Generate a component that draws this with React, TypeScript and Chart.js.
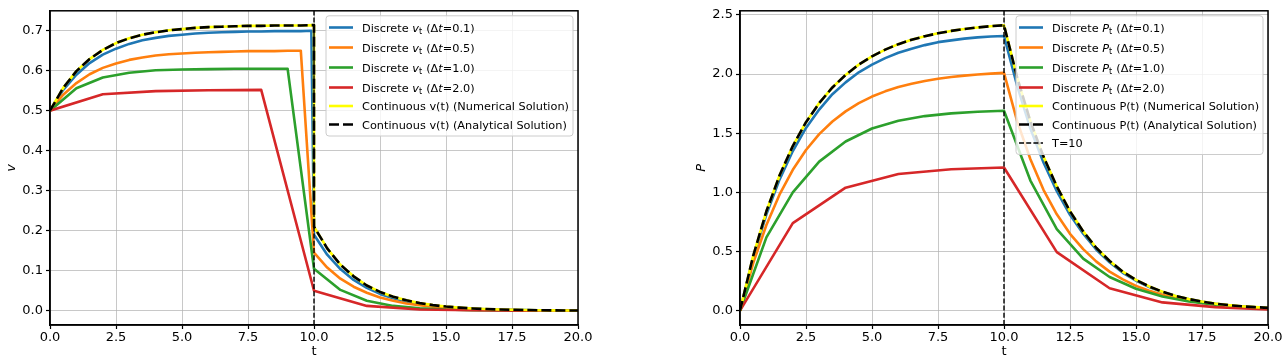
import React, { useEffect, useRef } from "react";
import { Chart, registerables } from "chart.js";

Chart.register(...registerables);

const FONT = "'DejaVu Sans', sans-serif";

// ---------- time grids ----------
const tFine = [0, 0.5, 1, 1.5, 2, 2.5, 3, 3.5, 4, 4.5, 5, 5.5, 6, 6.5, 7, 7.5, 8, 8.5, 9, 9.5, 9.9,
  10, 10.5, 11, 11.5, 12, 12.5, 13, 13.5, 14, 14.5, 15, 15.5, 16, 16.5, 17, 17.5, 18, 18.5, 19, 19.5, 20];
const tHalf = [0, 0.5, 1, 1.5, 2, 2.5, 3, 3.5, 4, 4.5, 5, 5.5, 6, 6.5, 7, 7.5, 8, 8.5, 9, 9.5,
  10, 10.5, 11, 11.5, 12, 12.5, 13, 13.5, 14, 14.5, 15, 15.5, 16, 16.5, 17, 17.5, 18, 18.5, 19, 19.5, 20];
const tUnit = [0, 1, 2, 3, 4, 5, 6, 7, 8, 9, 10, 11, 12, 13, 14, 15, 16, 17, 18, 19, 20];
const tTwo = [0, 2, 4, 6, 8, 10, 12, 14, 16, 18, 20];
const tContJump = [0, 0.5, 1, 1.5, 2, 2.5, 3, 3.5, 4, 4.5, 5, 5.5, 6, 6.5, 7, 7.5, 8, 8.5, 9, 9.5, 10,
  10, 10.5, 11, 11.5, 12, 12.5, 13, 13.5, 14, 14.5, 15, 15.5, 16, 16.5, 17, 17.5, 18, 18.5, 19, 19.5, 20];

// ---------- v(t) series ----------
const vDt01 = [0.500, 0.552, 0.590, 0.619, 0.640, 0.655, 0.667, 0.676, 0.682, 0.687, 0.690, 0.693, 0.695, 0.696, 0.697, 0.698, 0.698, 0.699, 0.699, 0.699, 0.700,
  0.190, 0.140, 0.104, 0.077, 0.057, 0.042, 0.031, 0.023, 0.017, 0.0125, 0.0093, 0.0069, 0.0051, 0.0038, 0.0028, 0.0021, 0.0015, 0.0011, 0.0008, 0.0006, 0.0005];
const vDt05 = [0.500, 0.540, 0.569, 0.591, 0.607, 0.618, 0.627, 0.633, 0.638, 0.641, 0.643, 0.645, 0.646, 0.647, 0.648, 0.649, 0.649, 0.649, 0.650, 0.650,
  0.145, 0.108, 0.080, 0.060, 0.045, 0.033, 0.025, 0.018, 0.0135, 0.010, 0.0075, 0.0056, 0.0042, 0.0031, 0.0023, 0.0017, 0.0013, 0.0009, 0.0007, 0.0005, 0.0004];
const vDt1 = [0.500, 0.556, 0.583, 0.595, 0.601, 0.603, 0.604, 0.605, 0.605, 0.605,
  0.105, 0.052, 0.025, 0.012, 0.006, 0.003, 0.0015, 0.0007, 0.0004, 0.0002, 0.0001];
const vDt2 = [0.500, 0.541, 0.549, 0.551, 0.552, 0.050, 0.012, 0.003, 0.001, 0.0002, 0.0];
const vCont = [0.500, 0.557, 0.599, 0.629, 0.652, 0.669, 0.681, 0.690, 0.696, 0.701, 0.704, 0.707, 0.709, 0.710, 0.711, 0.712, 0.712, 0.713, 0.713, 0.713, 0.714,
  0.210, 0.156, 0.115, 0.086, 0.063, 0.047, 0.035, 0.026, 0.019, 0.014, 0.0104, 0.0077, 0.0057, 0.0042, 0.0031, 0.0023, 0.0017, 0.0013, 0.0009, 0.0007, 0.0005];
const vNumerical = vCont;

// ---------- P(t) series ----------
const pDt01 = [0, 0.450, 0.815, 1.110, 1.350, 1.545, 1.700, 1.830, 1.930, 2.015, 2.080, 2.135, 2.180, 2.215, 2.245, 2.270, 2.285, 2.300, 2.310, 2.318, 2.322,
  1.900, 1.540, 1.250, 1.010, 0.810, 0.650, 0.515, 0.410, 0.320, 0.255, 0.200, 0.157, 0.123, 0.096, 0.075, 0.059, 0.046, 0.036, 0.029, 0.023];
const pDt05 = [0, 0.402, 0.724, 0.983, 1.191, 1.358, 1.492, 1.599, 1.685, 1.754, 1.810, 1.854, 1.890, 1.918, 1.941, 1.960, 1.975, 1.987, 1.996, 2.004, 2.010,
  1.600, 1.280, 1.020, 0.815, 0.650, 0.520, 0.415, 0.330, 0.265, 0.210, 0.168, 0.134, 0.107, 0.085, 0.068, 0.054, 0.043, 0.034, 0.027, 0.022];
const pDt1 = [0, 0.620, 1.000, 1.260, 1.430, 1.540, 1.605, 1.645, 1.668, 1.682, 1.690,
  1.100, 0.690, 0.440, 0.285, 0.185, 0.120, 0.078, 0.050, 0.033, 0.021];
const pDt2 = [0, 0.740, 1.040, 1.155, 1.195, 1.210, 0.495, 0.190, 0.070, 0.030, 0.010];
const pCont = [0, 0.464, 0.840, 1.145, 1.392, 1.593, 1.755, 1.887, 1.993, 2.080, 2.150, 2.207, 2.253, 2.290, 2.320, 2.345, 2.365, 2.381, 2.394, 2.405, 2.413,
  1.970, 1.600, 1.300, 1.050, 0.840, 0.670, 0.530, 0.420, 0.330, 0.260, 0.205, 0.160, 0.125, 0.098, 0.077, 0.060, 0.047, 0.037, 0.030, 0.024];
const pNumerical = pCont;

// ---------- axes ----------
const xTickValues = [0, 2.5, 5, 7.5, 10, 12.5, 15, 17.5, 20];
const vTickValues = [0, 0.1, 0.2, 0.3, 0.4, 0.5, 0.6, 0.7];
const pTickValues = [0, 0.5, 1, 1.5, 2, 2.5];
const vLimits = [-0.0357, 0.7497];
const pLimits = [-0.121, 2.535];
const T_SWITCH = 10;
const dtLabels = ["0.1", "0.5", "1.0", "2.0"];

const C_BLUE = "#1f77b4";
const C_ORANGE = "#ff7f0e";
const C_GREEN = "#2ca02c";
const C_RED = "#d62728";
const C_YELLOW = "#ffff00";
const C_BLACK = "#000000";

const LW = 2.6;
const DASH_BLACK = [10, 4];
const DASH_T = [5, 2.2];
const LEG_FS = 11.3;

const xy = (xs: number[], ys: number[]) => xs.map((x, i) => ({ x, y: ys[i] }));

type Seg = { t: string; it?: boolean; sub?: boolean };
type LegItem = { segs: Seg[]; color: string; width: number; dash: number[]; math: boolean };

const discreteSegs = (sym: string, dt: string): Seg[] => [
  { t: "Discrete " }, { t: sym, it: true }, { t: "t", sub: true },
  { t: " (Δ" }, { t: "t", it: true }, { t: "=" + dt + ")" },
];

function makeLegendItems(sym: string, contName: string, withT: boolean): LegItem[] {
  const cols = [C_BLUE, C_ORANGE, C_GREEN, C_RED];
  const items: LegItem[] = dtLabels.map((d, i) => ({ segs: discreteSegs(sym, d), color: cols[i], width: LW, dash: [], math: true }));
  items.push({ segs: [{ t: `Continuous ${contName}(t) (Numerical Solution)` }], color: C_YELLOW, width: LW, dash: [], math: false });
  items.push({ segs: [{ t: `Continuous ${contName}(t) (Analytical Solution)` }], color: C_BLACK, width: LW, dash: DASH_BLACK, math: false });
  if (withT) items.push({ segs: [{ t: "T=10" }], color: C_BLACK, width: 1.4, dash: DASH_T, math: false });
  return items;
}

const framePlugin = {
  id: "frame",
  afterDatasetsDraw(chart: any) {
    const { ctx, chartArea } = chart;
    const { left, top, right, bottom } = chartArea;
    ctx.save();
    ctx.strokeStyle = "#000";
    ctx.lineWidth = 1.5;
    ctx.strokeRect(left, top, right - left, bottom - top);
    ctx.restore();
  },
};

function legendPlugin(items: LegItem[]) {
  return {
    id: "mplLegend",
    afterDatasetsDraw(chart: any) {
      const { ctx, chartArea } = chart;
      const bw = 247;
      const bx = chartArea.right - 5 - bw;
      const by = chartArea.top + 5;
      const centers: number[] = [];
      let y = by + 11.7;
      items.forEach((it, i) => {
        centers.push(y);
        const next = items[i + 1];
        y += it.math && next && next.math ? 20 : 18.5;
      });
      const bh = centers[centers.length - 1] - by + 11.5;
      ctx.save();
      ctx.beginPath();
      const r = 3;
      ctx.moveTo(bx + r, by);
      ctx.arcTo(bx + bw, by, bx + bw, by + bh, r);
      ctx.arcTo(bx + bw, by + bh, bx, by + bh, r);
      ctx.arcTo(bx, by + bh, bx, by, r);
      ctx.arcTo(bx, by, bx + bw, by, r);
      ctx.closePath();
      ctx.fillStyle = "rgba(255,255,255,0.8)";
      ctx.fill();
      ctx.strokeStyle = "rgba(204,204,204,1)";
      ctx.lineWidth = 1;
      ctx.stroke();

      items.forEach((it, i) => {
        const cy = centers[i];
        ctx.beginPath();
        ctx.setLineDash(it.dash);
        ctx.lineDashOffset = 0;
        ctx.strokeStyle = it.color;
        ctx.lineWidth = it.width;
        ctx.lineCap = "butt";
        ctx.moveTo(bx + 3, cy);
        ctx.lineTo(bx + 27, cy);
        ctx.stroke();
        ctx.setLineDash([]);
        let x = bx + 36;
        const base = cy + 4.2;
        ctx.fillStyle = "#000";
        ctx.textBaseline = "alphabetic";
        ctx.textAlign = "left";
        for (const s of it.segs) {
          if (s.sub) {
            ctx.font = `8px ${FONT}`;
            ctx.fillText(s.t, x, base + 2.5);
            x += ctx.measureText(s.t).width + 0.5;
          } else {
            ctx.font = `${s.it ? "italic " : ""}${LEG_FS}px ${FONT}`;
            ctx.fillText(s.t, x, base);
            x += ctx.measureText(s.t).width;
          }
        }
      });
      ctx.restore();
    },
  };
}

function lineDs(label: string, data: any[], color: string, order: number, extra: any = {}) {
  return {
    label,
    data,
    borderColor: color,
    backgroundColor: color,
    borderWidth: LW,
    pointRadius: 0,
    pointHoverRadius: 0,
    tension: 0,
    fill: false,
    order,
    borderJoinStyle: "round",
    borderCapStyle: "butt",
    ...extra,
  };
}

function buildConfig(opts: {
  series: { t: number[]; y: number[] }[];
  numeric: { t: number[]; y: number[] };
  analytic: { t: number[]; y: number[] };
  limits: number[];
  yTicks: number[];
  yTitle: string;
  canvasW: number;
  legendItems: LegItem[];
}) {
  const cols = [C_BLUE, C_ORANGE, C_GREEN, C_RED];
  const datasets: any[] = opts.series.map((s, i) => lineDs("d" + i, xy(s.t, s.y), cols[i], 6 - i));
  datasets.push(lineDs("num", xy(opts.numeric.t, opts.numeric.y), C_YELLOW, 2));
  datasets.push(lineDs("ana", xy(opts.analytic.t, opts.analytic.y), C_BLACK, 1, { borderDash: DASH_BLACK }));
  datasets.push(lineDs("T", [{ x: T_SWITCH, y: opts.limits[0] }, { x: T_SWITCH, y: opts.limits[1] }], C_BLACK, 0, { borderDash: DASH_T, borderWidth: 1.4 }));

  const tickFont = { family: FONT, size: 13 };
  const gridColor = "rgba(176,176,176,0.7)";
  return {
    type: "line",
    data: { datasets },
    options: {
      responsive: false,
      maintainAspectRatio: false,
      animation: false,
      events: [],
      layout: { padding: { left: 0, right: opts.canvasW - 578, top: 10, bottom: 0 } },
      plugins: { legend: { display: false }, tooltip: { enabled: false } },
      scales: {
        x: {
          type: "linear",
          min: 0,
          max: 20,
          afterBuildTicks: (s: any) => { s.ticks = xTickValues.map((v) => ({ value: v })); },
          afterFit: (s: any) => { s.height = 38; },
          ticks: { callback: (v: any) => Number(v).toFixed(1), font: tickFont, color: "#000", padding: 1, maxRotation: 0, autoSkip: false },
          grid: { color: gridColor, lineWidth: 1, tickLength: 4, tickColor: "#000", tickWidth: 1.2 },
          border: { display: true, color: "#000", width: 1.5 },
          title: { display: true, text: "t", font: { family: FONT, size: 13 }, color: "#000", padding: { top: 4, bottom: 4 } },
        },
        y: {
          type: "linear",
          min: opts.limits[0],
          max: opts.limits[1],
          afterBuildTicks: (s: any) => { s.ticks = opts.yTicks.map((v) => ({ value: v })); },
          afterFit: (s: any) => { s.width = 50; },
          ticks: { callback: (v: any) => Number(v).toFixed(1), font: tickFont, color: "#000", padding: 3, autoSkip: false },
          grid: { color: gridColor, lineWidth: 1, tickLength: 4, tickColor: "#000", tickWidth: 1.2 },
          border: { display: true, color: "#000", width: 1.5 },
          title: { display: true, text: opts.yTitle, font: { family: FONT, size: 13, style: "italic" }, color: "#000", padding: { top: 4, bottom: 4 } },
        },
      },
    },
    plugins: [framePlugin, legendPlugin(opts.legendItems)],
  };
}

export default function App() {
  const leftRef = useRef<HTMLCanvasElement>(null);
  const rightRef = useRef<HTMLCanvasElement>(null);

  useEffect(() => {
    const c1 = new Chart(leftRef.current as HTMLCanvasElement, buildConfig({
      series: [
        { t: tFine, y: vDt01 },
        { t: tHalf, y: vDt05 },
        { t: tUnit, y: vDt1 },
        { t: tTwo, y: vDt2 },
      ],
      numeric: { t: tContJump, y: vNumerical },
      analytic: { t: tContJump, y: vCont },
      limits: vLimits,
      yTicks: vTickValues,
      yTitle: "v",
      canvasW: 645,
      legendItems: makeLegendItems("v", "v", false),
    }) as any);
    const c2 = new Chart(rightRef.current as HTMLCanvasElement, buildConfig({
      series: [
        { t: tHalf, y: pDt01 },
        { t: tHalf, y: pDt05 },
        { t: tUnit, y: pDt1 },
        { t: tTwo, y: pDt2 },
      ],
      numeric: { t: tHalf, y: pNumerical },
      analytic: { t: tHalf, y: pCont },
      limits: pLimits,
      yTicks: pTickValues,
      yTitle: "P",
      canvasW: 597,
      legendItems: makeLegendItems("P", "P", true),
    }) as any);
    return () => { c1.destroy(); c2.destroy(); };
  }, []);

  return (
    <div style={{ position: "absolute", left: 0, top: 0, width: 1287, height: 363, background: "#fff", overflow: "hidden" }}>
      <canvas ref={leftRef} width={645} height={363} style={{ position: "absolute", left: 0, top: 0, width: 645, height: 363 }} />
      <canvas ref={rightRef} width={597} height={363} style={{ position: "absolute", left: 690, top: 0, width: 597, height: 363 }} />
    </div>
  );
}
